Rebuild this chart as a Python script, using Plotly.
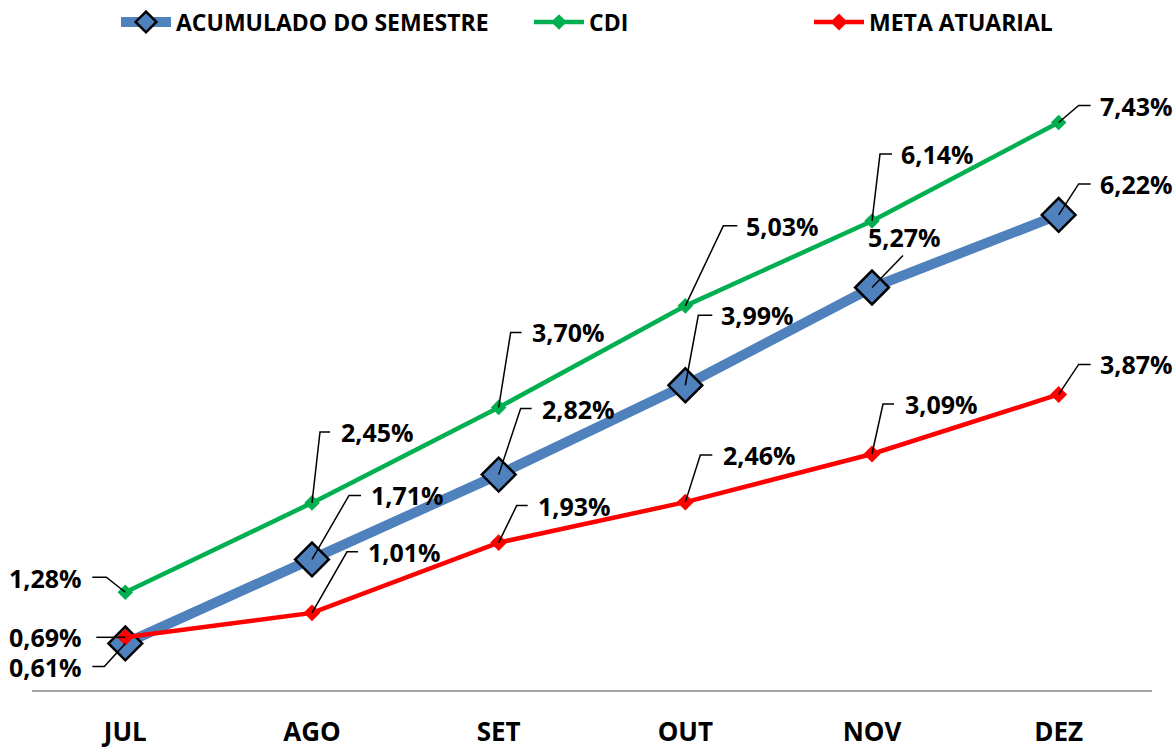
import plotly.graph_objects as go

months = ["JUL", "AGO", "SET", "OUT", "NOV", "DEZ"]
acumulado = [0.61, 1.71, 2.82, 3.99, 5.27, 6.22]
cdi = [1.28, 2.45, 3.70, 5.03, 6.14, 7.43]
meta = [0.69, 1.01, 1.93, 2.46, 3.09, 3.87]

# leader-line styling per label: (elbow dx, elbow dy, end dx, text dx, text anchor, text dy) in pixels
acum_lbl = [(-21, -23, -33, -41, "right", -24), (37, 64, 49, 57, "left", 64), (22, 66, 33, 41, "left", 66),
            (13, 70, 27, 34, "left", 70), (31, 32, 31, 32, "center", 51), (20, 31, 32, 39, "left", 31)]
cdi_lbl = [(-19, 15, -33, -41, "right", 14), (8, 71, 18, 27, "left", 71), (12, 75, 23, 31, "left", 75),
           (38, 80, 52, 59, "left", 80), (8, 67, 20, 27, "left", 67), (20, 17, 32, 39, "left", 17)]
meta_lbl = [(-29, 0, -29, -41, "right", 0), (35, 61, 46, 54, "left", 61), (18, 37, 29, 37, "left", 37),
            (15, 47, 27, 36, "left", 47), (11, 50, 22, 31, "left", 50), (20, 30, 32, 39, "left", 30)]

FONT = "Open Sans"
BLUE = "#4F81BD"
GREEN = "#00B050"
RED = "#FF0000"
W, H = 1175, 749

fig = go.Figure()
fig.add_trace(go.Scatter(
    x=months, y=acumulado, name="ACUMULADO DO SEMESTRE", mode="lines+markers",
    line=dict(color=BLUE, width=10),
    marker=dict(symbol="diamond", size=26, color=BLUE, line=dict(color="black", width=2.5)),
    legend="legend", showlegend=True, cliponaxis=False))
fig.add_trace(go.Scatter(
    x=months, y=cdi, name="CDI", mode="lines+markers",
    line=dict(color=GREEN, width=4.5),
    marker=dict(symbol="diamond", size=12, color=GREEN),
    legend="legend2", showlegend=True, cliponaxis=False))
fig.add_trace(go.Scatter(
    x=months, y=meta, name="META ATUARIAL", mode="lines+markers",
    line=dict(color=RED, width=4.5),
    marker=dict(symbol="diamond", size=13, color=RED),
    legend="legend3", showlegend=True, cliponaxis=False))

def fmt(v):
    return f"{v:.2f}".replace(".", ",") + "%"

for vals, lbls in [(acumulado, acum_lbl), (cdi, cdi_lbl), (meta, meta_lbl)]:
    for m, v, (ex, ey, endx, tx, anc, ty) in zip(months, vals, lbls):
        fig.add_shape(type="path", xref="x", yref="y", xsizemode="pixel", ysizemode="pixel",
                      xanchor=m, yanchor=v,
                      path=f"M0,0 L{ex},{ey} L{endx},{ey}",
                      line=dict(color="black", width=1.5), layer="above")
        fig.add_annotation(x=m, y=v, xref="x", yref="y", text=fmt(v), showarrow=False,
                           xshift=tx, yshift=ty, xanchor=anc, yanchor="middle",
                           font=dict(family=FONT, size=25, color="black", weight=700))

leg_common = dict(orientation="h", yanchor="middle", y=1 - 22 / H, yref="container",
                  xanchor="left", xref="container",
                  bgcolor="rgba(0,0,0,0)", itemwidth=50,
                  font=dict(family=FONT, size=23, color="black", weight=700))
fig.update_layout(
    showlegend=True,
    legend=dict(x=116 / W, **leg_common),
    legend2=dict(x=529 / W, **leg_common),
    legend3=dict(x=809 / W, **leg_common),
    width=W, height=H,
    margin=dict(l=32, r=23, t=79, b=59, autoexpand=False),
    plot_bgcolor="white", paper_bgcolor="white",
    xaxis=dict(type="category", range=[-0.5, 5.5], showgrid=False, showline=True,
               linecolor="#A6A6A6", linewidth=2, ticks="outside", ticklen=18,
               tickcolor="rgba(0,0,0,0)", automargin=False,
               tickfont=dict(family=FONT, size=26, color="black", weight=700)),
    yaxis=dict(range=[0, 8], visible=False, showgrid=False, zeroline=False, automargin=False),
)

fig.write_html("out.html", config={"displayModeBar": False},
               post_script="document.body.style.margin='0px';document.body.style.overflow='hidden';")
